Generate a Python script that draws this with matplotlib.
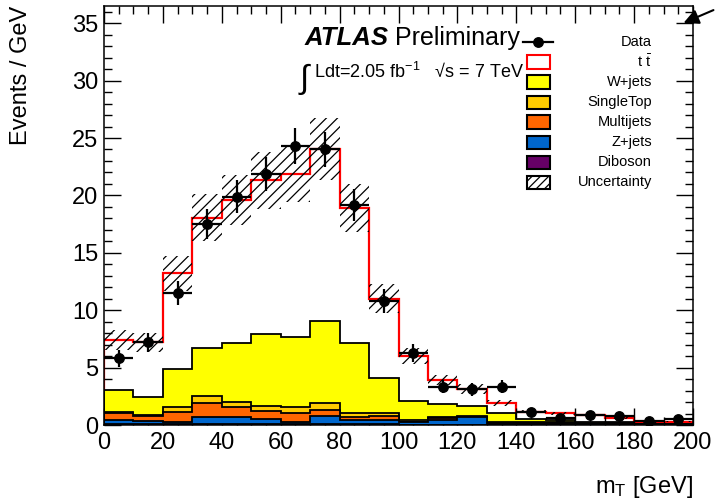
import numpy as np
import matplotlib.pyplot as plt
from matplotlib.patches import Rectangle
from matplotlib.lines import Line2D
from matplotlib.ticker import MultipleLocator

plt.rcParams['font.family'] = ['Liberation Sans', 'DejaVu Sans']
plt.rcParams['mathtext.fontset'] = 'custom'
plt.rcParams['mathtext.rm'] = 'Liberation Sans'
plt.rcParams['mathtext.it'] = 'Liberation Sans:italic'
plt.rcParams['hatch.linewidth'] = 0.9

# m_T binning, 10 GeV per bin
bin_edges = np.arange(0, 210, 10)

# events / GeV per process
diboson = [0.05, 0.05, 0.05, 0.08, 0.08, 0.06, 0.06, 0.08, 0.05, 0.05,
           0.04, 0.04, 0.04, 0.03, 0.03, 0.02, 0.02, 0.02, 0.01, 0.01]
zjets = [0.39, 0.33, 0.25, 0.65, 0.65, 0.44, 0.23, 0.70, 0.39, 0.39,
         0.18, 0.36, 0.66, 0.07, 0.05, 0.08, 0.03, 0.08, 0.02, 0.02]
multijets = [0.58, 0.40, 0.86, 1.22, 0.87, 0.75, 0.78, 0.52, 0.23, 0.34,
             0.08, 0.20, 0.02, 0.10, 0.07, 0.10, 0.05, 0.05, 0.02, 0.02]
singletop = [0.08, 0.07, 0.44, 0.58, 0.43, 0.41, 0.47, 0.59, 0.35, 0.24,
             0.10, 0.10, 0.03, 0.10, 0.07, 0.05, 0.05, 0.03, 0.03, 0.02]
wjets = [1.95, 1.62, 3.25, 4.15, 5.15, 6.27, 6.16, 7.21, 6.16, 3.10,
         1.70, 1.13, 0.91, 0.72, 0.28, 0.15, 0.15, 0.07, 0.04, 0.03]
ttbar = [4.35, 4.73, 8.35, 11.37, 12.42, 13.37, 14.20, 14.90, 11.72, 6.88,
         3.90, 2.07, 1.48, 0.88, 0.66, 0.62, 0.57, 0.33, 0.11, 0.20]
syst_unc = [0.85, 0.85, 1.55, 2.05, 2.20, 2.45, 2.50, 2.70, 2.10, 1.25,
            0.70, 0.45, 0.40, 0.25, 0.15, 0.13, 0.11, 0.08, 0.04, 0.05]
data = [5.8, 7.2, 11.5, 17.5, 19.9, 21.9, 24.3, 24.0, 19.2, 10.8,
        6.3, 3.35, 3.1, 3.35, 1.1, 0.58, 0.87, 0.78, 0.37, 0.5]

processes = [
    ("Diboson", diboson, "#660066"),
    ("Z+jets", zjets, "#0066cc"),
    ("Multijets", multijets, "#ff6600"),
    ("SingleTop", singletop, "#ffcc00"),
    ("W+jets", wjets, "#ffff00"),
]

W, H = 716, 501
fig = plt.figure(figsize=(W / 100, H / 100), dpi=100)
ax = fig.add_axes([104 / W, 1 - 425 / H, (693 - 104) / W, (425 - 6) / H])


def fpos(x, y):
    """pixel position (from top-left) -> figure fraction"""
    return x / W, 1 - y / H


# stack, drawn from the top layer down so lower layers sit in front
tops = np.cumsum([np.array(p[1]) for p in processes] + [np.array(ttbar)], axis=0)
total = tops[-1]
ax.stairs(total, bin_edges, baseline=0, fill=True, color="white", zorder=1)
ax.stairs(total, bin_edges, baseline=0, color="red", lw=1.6, zorder=1.1)
for i in range(len(processes) - 1, -1, -1):
    name, vals, col = processes[i]
    ax.stairs(tops[i], bin_edges, baseline=0, fill=True, color=col, zorder=2 + 0.1 * (5 - i))
    ax.stairs(tops[i], bin_edges, baseline=0, color="black", lw=1.3, zorder=2.05 + 0.1 * (5 - i))

# total uncertainty band
unc = np.array(syst_unc)
ax.stairs(total + unc, bin_edges, baseline=total - unc, fill=True,
          facecolor="none", edgecolor="black", lw=0, hatch="///", zorder=4)

# data with poisson errors
data = np.array(data)
centers = 0.5 * (bin_edges[1:] + bin_edges[:-1])
yerr = np.sqrt(data * 10) / 10
ax.errorbar(centers, data, xerr=5, yerr=yerr, fmt="o", color="black",
            ms=6.8, elinewidth=1.6, capsize=0, zorder=5)

ax.set_xlim(0, 200)
ax.set_ylim(0, 36.5)
ax.xaxis.set_major_locator(MultipleLocator(20))
ax.xaxis.set_minor_locator(MultipleLocator(5))
ax.yaxis.set_major_locator(MultipleLocator(5))
ax.yaxis.set_minor_locator(MultipleLocator(1))
ax.tick_params(which="both", direction="in", top=True, right=True,
               labelsize=17, width=1.0)
ax.tick_params(which="major", length=12)
ax.tick_params(which="minor", length=6)
ax.tick_params(axis="x", pad=5)
ax.tick_params(axis="y", pad=4)
for s in ax.spines.values():
    s.set_linewidth(1.1)

fig.text(*fpos(21, 6), "Events / GeV", rotation=90, ha="center", va="top", fontsize=17)
fig.text(*fpos(693, 493), r"m$_{\rm T}$ [GeV]", ha="right", va="baseline", fontsize=17)

# labels
fig.text(*fpos(305, 45), "ATLAS", fontsize=18.5, weight="bold", style="italic", va="baseline")
fig.text(*fpos(395, 45), "Preliminary", fontsize=18, va="baseline")
fig.text(*fpos(300, 88), "\u222b", fontsize=24, va="baseline")
fig.text(*fpos(314, 78), r"Ldt=2.05 fb$^{-1}$   " + "\u221as = 7 TeV", fontsize=13, va="baseline")

# legend
leg_y0, leg_dy = 42, 20
box_x, box_w, box_h = 527, 23, 13
text_x = 652
for k, (label, face, edge, hatch) in enumerate([
        ("Data", None, None, None),
        (r"t $\bar{\rm t}$", "white", "red", None),
        ("W+jets", "#ffff00", "black", None),
        ("SingleTop", "#ffcc00", "black", None),
        ("Multijets", "#ff6600", "black", None),
        ("Z+jets", "#0066cc", "black", None),
        ("Diboson", "#660066", "black", None),
        ("Uncertainty", "white", "black", "////")]):
    yc = leg_y0 + k * leg_dy
    if face is None:
        x0, y0 = fpos(523, yc)
        x1, _ = fpos(553, yc)
        fig.add_artist(Line2D([x0, x1], [y0, y0], color="black", lw=1.6,
                              transform=fig.transFigure))
        fig.add_artist(Line2D([(x0 + x1) / 2], [y0], color="black", marker="o",
                              ms=6.8, transform=fig.transFigure))
    else:
        bx, by = fpos(box_x, yc + box_h / 2)
        fig.add_artist(Rectangle((bx, by), box_w / W, box_h / H, facecolor=face,
                                 edgecolor=edge, lw=1.5, hatch=hatch,
                                 transform=fig.transFigure))
    fig.text(*fpos(text_x, yc), label, ha="right", va="center", fontsize=10.5)

ax.annotate("", xy=(681, H - 24), xycoords="figure pixels",
            xytext=(716, H - 9), textcoords="figure pixels",
            arrowprops=dict(arrowstyle="-|>,head_length=0.9,head_width=0.45",
                            color="black", lw=1.5),
            annotation_clip=False)

fig.savefig("out.png", dpi=100)
